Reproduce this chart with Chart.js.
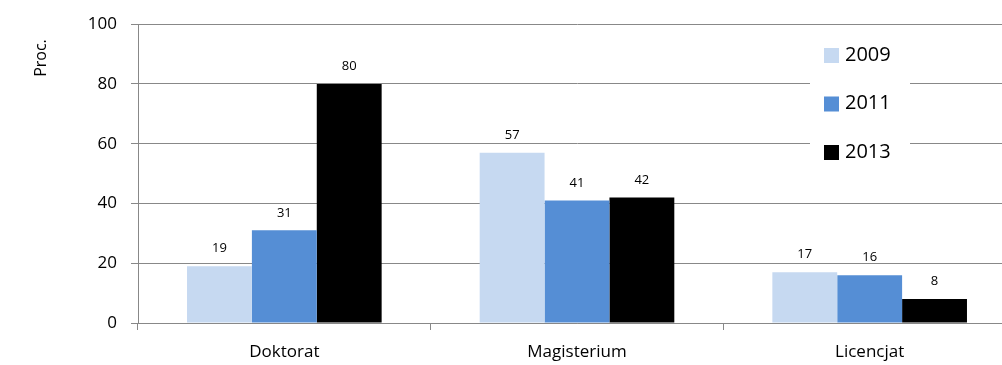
<!DOCTYPE html>
<html><head><meta charset="utf-8">
<script src="https://cdn.jsdelivr.net/npm/chart.js@4/dist/chart.umd.min.js"></script>
<style>
html,body{margin:0;padding:0;background:#fff;overflow:hidden;width:1002px;height:365px;}
#wrap{position:relative;width:1016px;height:365px;}
</style></head><body>
<div id="wrap"><canvas id="c" width="1016" height="365"></canvas></div>
<script>
const categories = ['Doktorat', 'Magisterium', 'Licencjat'];
const seriesNames = ['2009', '2011', '2013'];
const values2009 = [19, 57, 17];
const values2011 = [31, 41, 16];
const values2013 = [80, 42, 8];
const yTicks = [0, 20, 40, 60, 80, 100];
const yTitle = 'Proc.';
const colors = ['#C6D9F1', '#558ED5', '#000000'];
const FONT = '"Open Sans", "Liberation Sans", sans-serif';

const labelPlugin = {
  id: 'vals',
  afterDatasetsDraw(chart) {
    const ctx = chart.ctx;
    ctx.save();
    ctx.font = '13px ' + FONT;
    ctx.fillStyle = '#000';
    ctx.textAlign = 'center';
    ctx.textBaseline = 'bottom';
    chart.data.datasets.forEach((ds, i) => {
      chart.getDatasetMeta(i).data.forEach((bar, j) => {
        ctx.fillText(String(ds.data[j]), bar.x, bar.y - 11);
      });
    });
    ctx.restore();
  }
};

const legendPlugin = {
  id: 'customLegend',
  afterDraw(chart) {
    const ctx = chart.ctx;
    ctx.save();
    const x0 = 810, y0 = 38, w = 100, h = 130;
    ctx.fillStyle = '#fff';
    ctx.fillRect(x0, y0, w, h);
    ctx.font = '20px ' + FONT;
    ctx.textBaseline = 'middle';
    ctx.textAlign = 'left';
    chart.data.datasets.forEach((ds, i) => {
      const cy = 55 + i * 48.5;
      ctx.fillStyle = ds.backgroundColor;
      ctx.fillRect(824, cy - 7, 15, 15);
      ctx.fillStyle = '#000';
      ctx.fillText(ds.label, 845, cy);
    });
    // y-axis title
    ctx.translate(41, 58);
    ctx.rotate(-Math.PI / 2);
    ctx.font = '16px ' + FONT;
    ctx.textAlign = 'center';
    ctx.fillText(yTitle, 0, 0);
    ctx.restore();
  }
};

new Chart(document.getElementById('c'), {
  type: 'bar',
  data: {
    labels: categories,
    datasets: [
      { label: seriesNames[0], data: values2009, backgroundColor: colors[0] },
      { label: seriesNames[1], data: values2011, backgroundColor: colors[1] },
      { label: seriesNames[2], data: values2013, backgroundColor: colors[2] }
    ]
  },
  options: {
    responsive: false,
    animation: false,
    devicePixelRatio: 1,
    layout: { padding: { top: 22, right: 0, left: 0, bottom: 0 } },
    datasets: { bar: { categoryPercentage: 0.665, barPercentage: 1.0, borderWidth: 0 } },
    plugins: { legend: { display: false }, tooltip: { enabled: false } },
    scales: {
      x: {
        grid: { display: true, drawOnChartArea: false, drawTicks: true, tickLength: 7, color: '#888', offset: true },
        border: { display: true, color: '#888', width: 1 },
        ticks: { color: '#000', font: { family: FONT, size: 17 }, padding: 12 },
        afterFit(s) { s.height = 42; }
      },
      y: {
        min: 0, max: 100,
        afterBuildTicks(s) { s.ticks = yTicks.map(v => ({ value: v })); },
        grid: { color: '#888', lineWidth: 1, tickLength: 7, drawTicks: true },
        border: { display: true, color: '#888', width: 1 },
        ticks: { color: '#000', font: { family: FONT, size: 17 }, padding: 14 },
        afterFit(s) { s.width = 138; }
      }
    }
  },
  plugins: [labelPlugin, legendPlugin]
});
</script>
</body></html>
